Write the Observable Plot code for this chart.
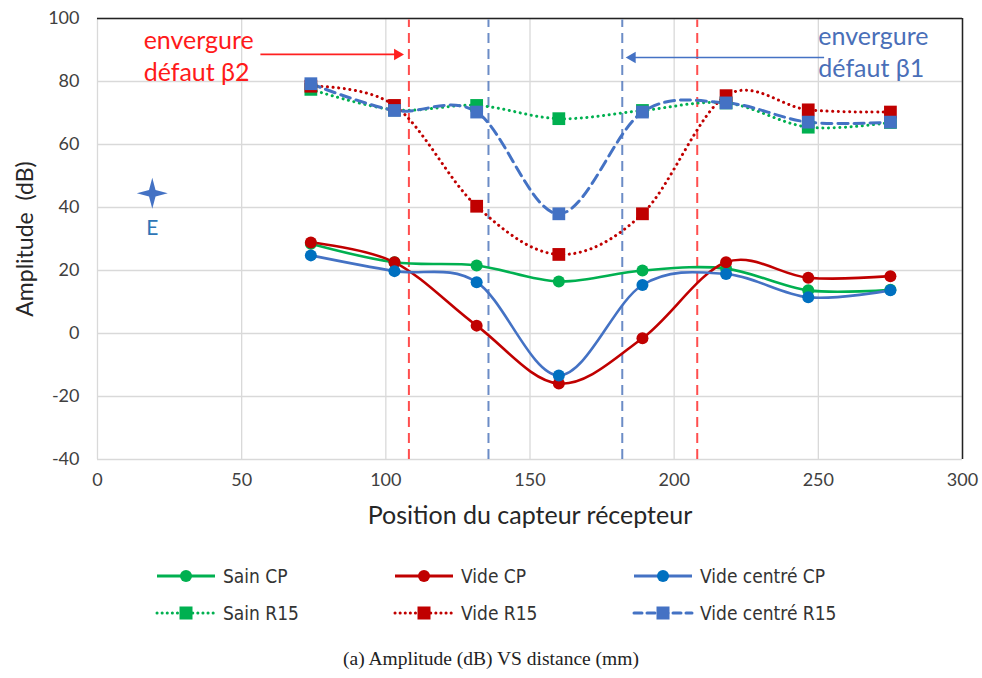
<!DOCTYPE html>
<html>
<head>
<meta charset="utf-8">
<script src="https://cdn.jsdelivr.net/npm/d3@7"></script>
<script src="https://cdn.jsdelivr.net/npm/@observablehq/plot@0.6"></script>
<style>
  html, body { margin: 0; padding: 0; background: #fff; }
  #wrap { position: relative; width: 982px; height: 678px; overflow: hidden; }
  #chart { position: absolute; left: 0; top: 0; }
  .leg { position: absolute; display: flex; align-items: center; font-family: "Liberation Sans Narrow", "DejaVu Sans Condensed", sans-serif; font-size: 19px; color: #333; }
  .leg svg { display: block; margin-right: 6px; }
  #caption { position: absolute; left: 0; width: 982px; top: 648px; text-align: center; font-family: "Liberation Serif", "DejaVu Serif", serif; font-size: 19.5px; color: #222; }
</style>
</head>
<body>
<div id="wrap">
  <div id="chart"></div>
  <div id="legend"></div>
  <div id="caption"></div>
</div>
<script>
// ---------- data ----------
const positions = [74, 103, 131.5, 160, 189, 218, 246.5, 275];
const sainCP = [28.5, 22.6, 21.6, 16.5, 20, 20.6, 13.7, 13.9];
const videCP = [28.9, 22.6, 2.5, -15.9, -1.5, 22.6, 17.7, 18.2];
const videCentreCP = [24.8, 19.8, 16.3, -13.3, 15.4, 18.9, 11.5, 13.7];
const sainR15 = [77.5, 71, 72.4, 68.2, 70.8, 73.2, 65.5, 67];
const videR15 = [78.5, 72.4, 40.4, 25.1, 38, 75.5, 71, 70.3];
const videCentreR15 = [79.3, 70.8, 70.3, 38, 70.3, 73.2, 67.1, 67.1];

const seriesNames = ["Sain CP", "Vide CP", "Vide centré CP", "Sain R15", "Vide R15", "Vide centré R15"];
const seriesValues = [sainCP, videCP, videCentreCP, sainR15, videR15, videCentreR15];
const lineColors = ["#00b050", "#c00000", "#4472c4", "#00b050", "#c00000", "#4472c4"];
const markerColors = ["#00b050", "#c00000", "#0070c0", "#00b050", "#c00000", "#4472c4"];
const markerSymbols = ["circle", "circle", "circle", "square", "square", "square"];
const lineDash = [null, null, null, "0.1,5.5", "0.1,5.5", "10,6"];

const xTicks = [0, 50, 100, 150, 200, 250, 300];
const yTicks = [-40, -20, 0, 20, 40, 60, 80, 100];
const xLabel = "Position du capteur récepteur";
const yLabel = "Amplitude  (dB)";

// defect span limits (mm)
const spanB2 = [108, 208];
const spanB1 = [135.6, 182];
// annotations
const noteB2 = [{x: 16, y: 93, text: "envergure"}, {x: 16, y: 82.8, text: "défaut β2"}];
const noteB1 = [{x: 250, y: 94, text: "envergure"}, {x: 250, y: 84, text: "défaut β1"}];
const arrowB2 = [{x1: 56.5, x2: 104, y: 88.6}];
const arrowB1 = [{x1: 252, x2: 185.5, y: 87.6}];
const emitter = [{x: 19, y: 44.5, label: "E", ly: 33.3}];

const captionText = "(a) Amplitude (dB) VS distance (mm)";

// ---------- build ----------
const rows = seriesNames.map((name, i) => positions.map((x, j) => ({series: name, x, y: seriesValues[i][j]})));

const star4 = {
  draw(ctx, size) {
    const r = Math.sqrt(size / Math.PI);
    const k = r * 0.21;
    ctx.moveTo(0, -r); ctx.lineTo(k, -k); ctx.lineTo(r, 0); ctx.lineTo(k, k);
    ctx.lineTo(0, r); ctx.lineTo(-k, k); ctx.lineTo(-r, 0); ctx.lineTo(-k, -k); ctx.closePath();
  }
};

const FONT = "Lato, 'Open Sans', sans-serif";
const seriesMarks = [];
rows.forEach((r, i) => {
  seriesMarks.push(Plot.line(r, {x: "x", y: "y", stroke: lineColors[i], strokeWidth: i >= 3 ? 3 : 2.6,
    strokeDasharray: lineDash[i], strokeLinecap: "round", curve: "cardinal"}));
});
rows.forEach((r, i) => {
  seriesMarks.push(Plot.dot(r, {x: "x", y: "y", fill: markerColors[i], stroke: null,
    symbol: markerSymbols[i], r: markerSymbols[i] === "square" ? 7.2 : 6}));
});

const chart = Plot.plot({
  width: 982,
  height: 545,
  marginLeft: 97,
  marginRight: 20,
  marginTop: 18,
  marginBottom: 86,
  style: {fontFamily: FONT, background: "#fff", overflow: "visible"},
  x: {domain: [0, 300]},
  y: {domain: [-40, 100]},
  marks: [
    Plot.gridX(xTicks, {stroke: "#d9d9d9", strokeOpacity: 1, strokeWidth: 1.3}),
    Plot.gridY(yTicks, {stroke: "#d9d9d9", strokeOpacity: 1, strokeWidth: 1.3}),
    Plot.ruleY([100], {stroke: "#222", strokeWidth: 1.5}),
    Plot.ruleX([300], {stroke: "#222", strokeWidth: 1.5}),
    Plot.axisX(xTicks, {tickSize: 0, tickPadding: 14, fontSize: 18, color: "#404040", label: null, tickFormat: d => String(d)}),
    Plot.axisY(yTicks, {tickSize: 0, tickPadding: 18, fontSize: 18, color: "#404040", label: null, tickFormat: d => String(d)}),
    Plot.text([xLabel], {frameAnchor: "bottom", dy: 64, fontSize: 25, fill: "#262626"}),
    Plot.text([yLabel], {frameAnchor: "left", textAnchor: "middle", dx: -72, rotate: -90, fontSize: 23, fill: "#262626"}),
    Plot.ruleX(spanB2, {y1: -40, y2: 99.5, stroke: "#ff3b3b", strokeWidth: 2, strokeDasharray: "10,6", strokeOpacity: 0.9}),
    Plot.ruleX(spanB1, {y1: -40, y2: 99.5, stroke: "#5b7fc0", strokeWidth: 2, strokeDasharray: "10,6", strokeOpacity: 0.9}),
    ...seriesMarks,
    Plot.link(arrowB2, {x1: "x1", x2: "x2", y1: "y", y2: "y", stroke: "#ff2020", strokeWidth: 1.6}),
    Plot.dot(arrowB2, {x: "x2", y: "y", symbol: "triangle2", rotate: 90, r: 5.5, fill: "#ff2020", stroke: null}),
    Plot.link(arrowB1, {x1: "x1", x2: "x2", y1: "y", y2: "y", stroke: "#4472c4", strokeWidth: 1.6}),
    Plot.dot(arrowB1, {x: "x2", y: "y", symbol: "triangle2", rotate: -90, r: 5.5, fill: "#4472c4", stroke: null}),
    Plot.text(noteB2, {x: "x", y: "y", text: "text", textAnchor: "start", fill: "#ff1a1a", fontSize: 25}),
    Plot.text(noteB1, {x: "x", y: "y", text: "text", textAnchor: "start", fill: "#4a6fb8", fontSize: 25}),
    Plot.dot(emitter, {x: "x", y: "y", symbol: star4, r: 15.5, fill: "#4472c4", stroke: null}),
    Plot.text(emitter, {x: "x", y: "ly", text: "label", fill: "#2e75b6", fontSize: 21})
  ]
});
document.getElementById("chart").appendChild(chart);

// ---------- legend ----------
const legend = document.getElementById("legend");
const legendLeft = [155, 393, 632];
const legendTop = [562, 599];
seriesNames.forEach((name, i) => {
  const col = i % 3, row = Math.floor(i / 3);
  const item = document.createElement("div");
  item.className = "leg";
  item.style.left = legendLeft[col] + "px";
  item.style.top = legendTop[row] + "px";
  item.style.height = "28px";
  const W = 62, H = 28, cy = H / 2;
  const dash = lineDash[i] ? `stroke-dasharray="${lineDash[i] === "10,6" ? "8,5" : "0.1,5"}"` : "";
  const marker = markerSymbols[i] === "circle"
    ? `<circle cx="${W/2}" cy="${cy}" r="6" fill="${markerColors[i]}"/>`
    : `<rect x="${W/2-6.5}" y="${cy-6.5}" width="13" height="13" fill="${markerColors[i]}"/>`;
  item.innerHTML = `<svg width="${W}" height="${H}"><line x1="2" x2="${W-2}" y1="${cy}" y2="${cy}" stroke="${lineColors[i]}" stroke-width="3" stroke-linecap="${lineDash[i]?'round':'butt'}" ${dash}/>${marker}</svg><span>${name}</span>`;
  legend.appendChild(item);
});
document.getElementById("caption").textContent = captionText;
</script>
</body>
</html>
